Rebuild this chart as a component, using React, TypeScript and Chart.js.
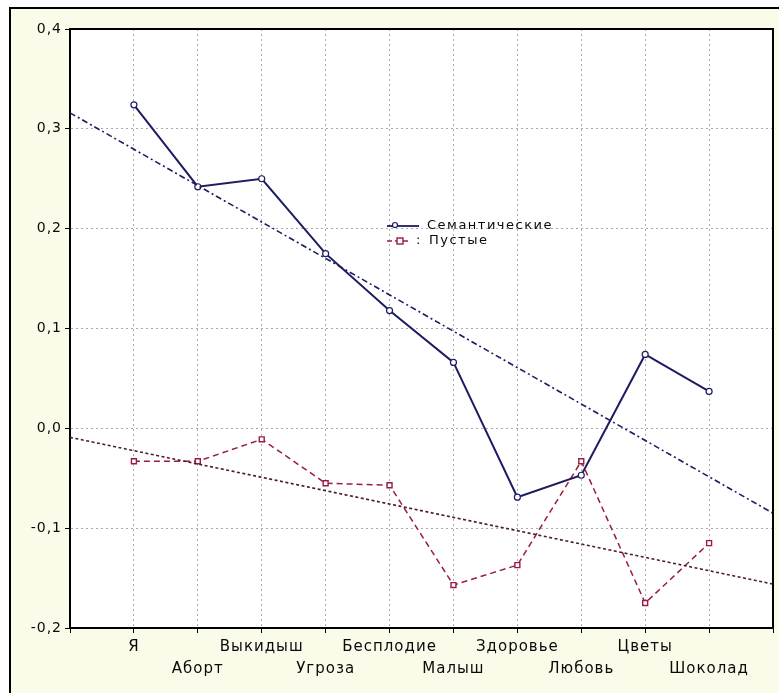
import { useEffect, useRef } from 'react';
import { Chart, registerables } from 'chart.js';

Chart.register(...registerables);

const categories = ['Я', 'Аборт', 'Выкидыш', 'Угроза', 'Бесплодие', 'Малыш', 'Здоровье', 'Любовь', 'Цветы', 'Шоколад'];
const seriesLabels = ['Семантические', 'Пустые'];
const semantic = [0.324, 0.242, 0.25, 0.175, 0.118, 0.066, -0.069, -0.047, 0.074, 0.037];
const empty = [-0.033, -0.033, -0.011, -0.055, -0.057, -0.157, -0.137, -0.033, -0.175, -0.115];
const trendX = [0, 11];
const semanticTrend = [0.316, -0.085];
const emptyTrend = [-0.009, -0.156];
const yMin = -0.2;
const yMax = 0.4;
const yStep = 0.1;

const BLUE = '#1c1c62';
const RED = '#9a1c40';
const TEXT = '#0a0a0a';

const plotFrame = {
  id: 'plotFrame',
  beforeDraw(chart: any) {
    const { ctx, chartArea: a } = chart;
    ctx.save();
    ctx.fillStyle = '#ffffff';
    ctx.fillRect(a.left, a.top, a.right - a.left, a.bottom - a.top);
    ctx.restore();
    ctx.letterSpacing = '1px';
  },
  afterDraw(chart: any) {
    const { ctx, chartArea: a } = chart;
    ctx.save();
    ctx.letterSpacing = '0px';
    ctx.strokeStyle = '#000';
    ctx.lineWidth = 2;
    ctx.setLineDash([]);
    ctx.beginPath();
    ctx.moveTo(a.left, a.top);
    ctx.lineTo(a.right, a.top);
    ctx.lineTo(a.right, a.bottom);
    ctx.stroke();

    // legend
    const lx = 387;
    const rows = [226, 241];
    ctx.font = '13px "DejaVu Sans"';
    ctx.textBaseline = 'middle';
    // row 1: semantic
    ctx.strokeStyle = BLUE;
    ctx.lineWidth = 1.8;
    ctx.beginPath();
    ctx.moveTo(lx, rows[0]);
    ctx.lineTo(lx + 32, rows[0]);
    ctx.stroke();
    ctx.lineWidth = 1.2;
    ctx.fillStyle = '#fff';
    ctx.beginPath();
    ctx.arc(lx + 8, rows[0] - 1, 2.5, 0, Math.PI * 2);
    ctx.fill();
    ctx.stroke();
    // row 2: empty
    ctx.strokeStyle = RED;
    ctx.lineWidth = 1.4;
    ctx.setLineDash([5, 3]);
    ctx.beginPath();
    ctx.moveTo(lx, rows[1]);
    ctx.lineTo(lx + 24, rows[1]);
    ctx.stroke();
    ctx.setLineDash([]);
    ctx.fillStyle = '#fff';
    ctx.fillRect(lx + 10, rows[1] - 3, 6, 6);
    ctx.strokeRect(lx + 10, rows[1] - 3, 6, 6);
    ctx.fillStyle = TEXT;
    ctx.fillText(':', lx + 29, rows[1]);
    ctx.letterSpacing = '1.5px';
    ctx.fillText(seriesLabels[0], lx + 40, rows[0]);
    ctx.fillText(seriesLabels[1], lx + 42, rows[1]);
    ctx.restore();
  },
};

export default function App() {
  const ref = useRef<HTMLCanvasElement | null>(null);

  useEffect(() => {
    if (!ref.current) return;
    const toPts = (vals: number[]) => vals.map((v, i) => ({ x: i + 1, y: v }));
    const trendPts = (vals: number[]) => vals.map((v, i) => ({ x: trendX[i], y: v }));
    const chart = new Chart(ref.current, {
      type: 'line',
      data: {
        datasets: [
          {
            label: seriesLabels[0] + ' тренд',
            data: trendPts(semanticTrend),
            borderColor: BLUE,
            borderWidth: 1.6,
            borderDash: [6, 3, 2, 3],
            pointRadius: 0,
          },
          {
            label: seriesLabels[1] + ' тренд',
            data: trendPts(emptyTrend),
            borderColor: '#4a1a2a',
            borderWidth: 1.6,
            borderDash: [3, 2.5],
            pointRadius: 0,
          },
          {
            label: seriesLabels[0],
            data: toPts(semantic),
            borderColor: BLUE,
            borderWidth: 2,
            pointStyle: 'circle',
            pointRadius: 3,
            pointBorderWidth: 1.2,
            pointBackgroundColor: '#fff',
            pointBorderColor: BLUE,
          },
          {
            label: seriesLabels[1],
            data: toPts(empty),
            borderColor: RED,
            borderWidth: 1.5,
            borderDash: [6, 4],
            pointStyle: 'rect',
            pointRadius: 3.5,
            pointBorderWidth: 1.4,
            pointBackgroundColor: '#fff',
            pointBorderColor: RED,
          },
        ],
      },
      options: {
        animation: false,
        responsive: false,
        devicePixelRatio: 1,
        layout: { padding: { top: 29, right: 6, left: 0, bottom: 0 } },
        plugins: { legend: { display: false }, tooltip: { enabled: false } },
        scales: {
          x: {
            type: 'linear',
            min: 0,
            max: 11,
            afterFit: (s: any) => { s.height = 65; },
            afterBuildTicks: (s: any) => {
              s.ticks = Array.from({ length: 12 }, (_, i) => ({ value: i }));
            },
            ticks: {
              autoSkip: false,
              maxRotation: 0,
              padding: 3,
              color: TEXT,
              font: { family: '"DejaVu Sans"', size: 15, lineHeight: '22px' },
              callback: (v: any) => {
                const i = Number(v) - 1;
                const name = categories[i];
                if (!name) return '';
                return i % 2 === 0 ? [name] : ['', name];
              },
            },
            grid: { color: '#aaaaaa', lineWidth: 1, tickColor: '#000', tickLength: 5, tickBorderDash: [] },
            border: { display: true, color: '#000', width: 2, dash: [2, 3] },
          },
          y: {
            min: yMin,
            max: yMax,
            afterFit: (s: any) => { s.width = 70; },
            ticks: {
              stepSize: yStep,
              padding: 3,
              color: TEXT,
              font: { family: '"DejaVu Sans"', size: 14 },
              callback: (v: any) => (Math.round(Number(v) * 10) / 10).toFixed(1).replace('.', ','),
            },
            grid: { color: '#aaaaaa', lineWidth: 1, tickColor: '#000', tickLength: 5, tickBorderDash: [] },
            border: { display: true, color: '#000', width: 2, dash: [2, 3] },
          },
        },
      },
      plugins: [plotFrame],
    } as any);
    return () => chart.destroy();
  }, []);

  return (
    <div style={{ position: 'absolute', left: 0, top: 0, width: 779, height: 693, background: '#fff', overflow: 'hidden' }}>
      <div style={{ position: 'absolute', left: 9, top: 7, width: 790, height: 700, border: '2px solid #000', background: '#fbfbea' }} />
      <canvas ref={ref} width={779} height={693} style={{ position: 'absolute', left: 0, top: 0 }} />
    </div>
  );
}
